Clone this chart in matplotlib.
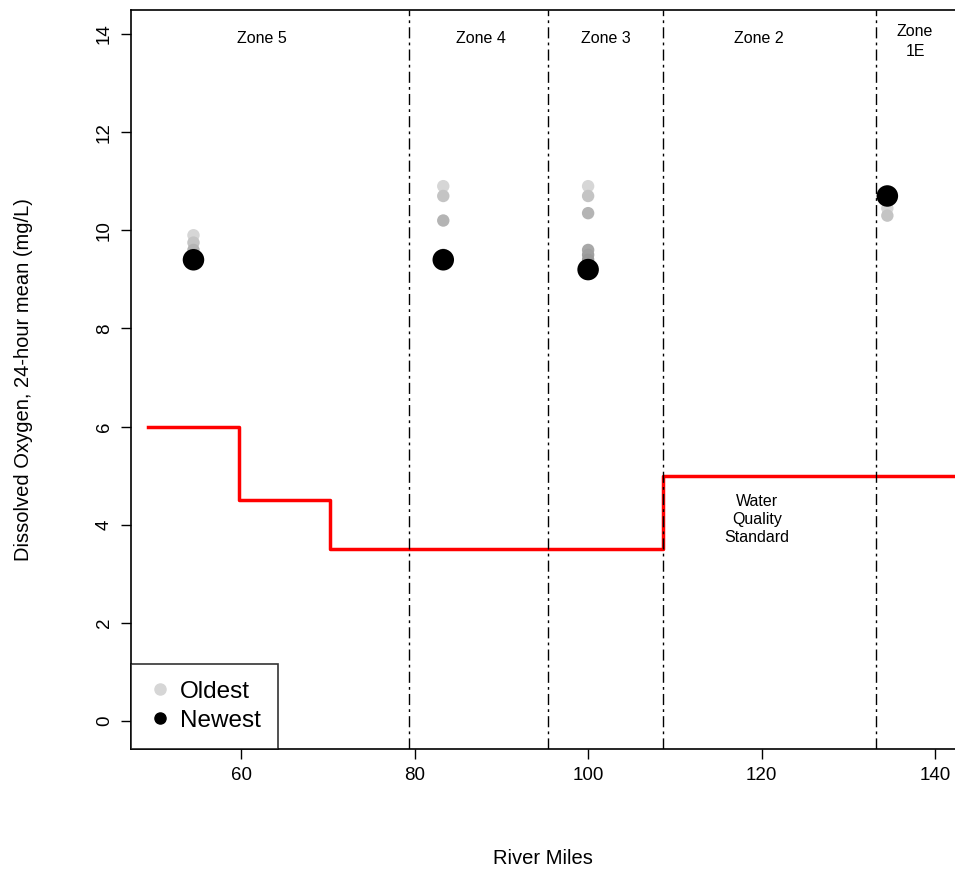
import matplotlib
matplotlib.use('Agg')
from matplotlib import pyplot as plt
from matplotlib.lines import Line2D

plt.rcParams['font.family'] = ['Liberation Sans', 'DejaVu Sans']

# river mile of each sampling site
site_miles = [54.5, 83.3, 100.0, 134.5]

# older samples at each site (oldest first), gray shade gets darker for newer
older_do = {
    54.5: [9.9, 9.75, 9.6, 9.5],
    83.3: [10.9, 10.7, 10.2, 9.5],
    100.0: [10.9, 10.7, 10.35, 9.6, 9.5, 9.4],
    134.5: [10.45, 10.3],
}
older_grays = ['#d6d6d6', '#c4c4c4', '#b4b4b4', '#a8a8a8', '#a0a0a0', '#999999']

# newest sample at each site
newest_do = [9.4, 9.4, 9.2, 10.7]

# water quality standard (step line)
std_miles = [49.2, 59.7, 59.7, 70.2, 70.2, 108.6, 108.6, 143]
std_do = [6.0, 6.0, 4.5, 4.5, 3.5, 3.5, 5.0, 5.0]

zone_bounds = [79.4, 95.4, 108.6, 133.2]
zone_labels = ['Zone 5', 'Zone 4', 'Zone 3', 'Zone 2', 'Zone\n1E']
zone_label_x = [62.4, 87.7, 102.0, 119.7, 137.7]

fig = plt.figure(figsize=(9.55, 8.71), dpi=100)
ax = fig.add_axes([0.1372, 0.1401, 0.8628, 0.8484])

for x in site_miles:
    vals = older_do[x]
    for i, v in enumerate(vals):
        ax.scatter(x, v, s=80, color=older_grays[i], edgecolors='none', zorder=2)
ax.scatter(site_miles, newest_do, s=240, color='black', edgecolors='none', zorder=3)

ax.plot(std_miles, std_do, color='red', lw=2.5, zorder=1)

for b in zone_bounds:
    ax.axvline(b, color='black', lw=1, linestyle=(0, (8, 3, 2, 3)))

for lab, x in zip(zone_labels, zone_label_x):
    y = 13.9 if '\n' not in lab else 13.85
    ax.text(x, y, lab, ha='center', va='center', fontsize=11.5, linespacing=1.35)

ax.text(119.5, 4.1, 'Water\nQuality\nStandard', ha='center', va='center',
        fontsize=11.5, linespacing=1.25)

ax.set_xlim(47.3, 142.3)
ax.set_ylim(-0.57, 14.49)
ax.set_xticks([60, 80, 100, 120, 140])
ax.set_yticks([0, 2, 4, 6, 8, 10, 12, 14])
ax.tick_params(axis='both', direction='out', length=7, width=1, labelsize=13.5, pad=6)
for lbl in ax.get_yticklabels():
    lbl.set_rotation(90)
    lbl.set_va('center')
for s in ax.spines.values():
    s.set_linewidth(1.2)
ax.spines['right'].set_visible(False)

ax.set_xlabel('River Miles', fontsize=14.5, labelpad=47)
ax.set_ylabel('Dissolved Oxygen, 24-hour mean (mg/L)', fontsize=14.5, labelpad=45.5)

handles = [
    Line2D([], [], marker='o', color='#d6d6d6', linestyle='none', markersize=8),
    Line2D([], [], marker='o', color='black', linestyle='none', markersize=8),
]
leg = ax.legend(handles, ['Oldest', 'Newest'], loc='lower left', bbox_to_anchor=(0, 0),
                fontsize=17.5, frameon=True, fancybox=False, borderaxespad=0,
                handletextpad=0.3, handlelength=1.0, borderpad=0.7, labelspacing=0.3)
leg.get_frame().set_edgecolor('black')
leg.get_frame().set_linewidth(1.2)

fig.savefig('out.png', dpi=100)
